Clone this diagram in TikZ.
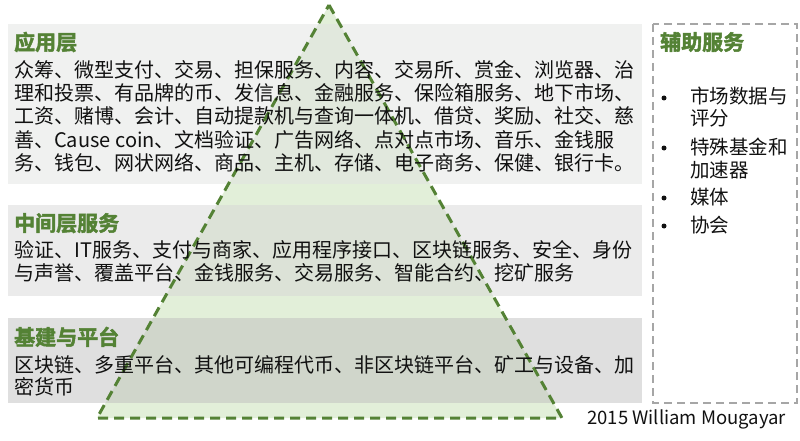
\documentclass[tikz,border=0pt]{standalone}
\usepackage{fontspec}
\setmainfont{Noto Sans CJK SC}
\newfontfamily\ttlfont[FakeBold=2.2]{Noto Sans CJK SC Bold}
\definecolor{boxA}{HTML}{E1E3E1}
\definecolor{boxB}{HTML}{D7D7D7}
\definecolor{boxC}{HTML}{BFBFBF}
\definecolor{tri}{HTML}{E2EFD9}
\definecolor{triline}{HTML}{548235}
\definecolor{ttl}{HTML}{548235}
\definecolor{dgray}{HTML}{A6A6A6}
\definecolor{txt}{HTML}{111111}
\tikzset{
  layerbox/.style={fill opacity=0.5, draw=none},
  ttlstyle/.style={anchor=base west, inner sep=0pt, text=ttl, font=\ttlfont\fontsize{21}{24}\selectfont},
  bodyline/.style={anchor=base west, inner sep=0pt, text=txt, font=\fontsize{20}{23}\selectfont},
  sideline/.style={anchor=base west, inner sep=0pt, text=txt, font=\fontsize{19.5}{22}\selectfont},
  bulletdot/.style={circle, fill=txt, inner sep=0pt, minimum size=5pt},
}
\begin{document}
\begin{tikzpicture}[x=1pt,y=-1pt]
\useasboundingbox (0,0) rectangle (800,441);
% triangle fill
\coordinate (apex) at (329,5);
\coordinate (bl) at (97,418);
\coordinate (br) at (562,418);
\fill[tri] (apex) -- (br) -- (bl) -- cycle;
% layer boxes
\fill[boxA, layerbox] (8,24) rectangle (642,184);
\fill[boxB, layerbox] (8,205) rectangle (642,296);
\fill[boxC, layerbox] (8,318) rectangle (642,403);
% triangle border
\draw[triline, line width=3pt, dash pattern=on 10pt off 6pt, line join=miter] (apex) -- (br) -- (bl) -- cycle;
% side box
\draw[dgray, line width=2.5pt, dash pattern=on 8pt off 5pt] (653,24) rectangle (797,403);

% top layer
\node[ttlstyle] (t1) at (14,50) {应用层};
\node[bodyline] (a1) at (14,78) {众筹、微型支付、交易、担保服务、内容、交易所、赏金、浏览器、治};
\node[bodyline] (a2) at (14,101) {理和投票、有品牌的币、发信息、金融服务、保险箱服务、地下市场、};
\node[bodyline] (a3) at (14,124) {工资、赌博、会计、自动提款机与查询一体机、借贷、奖励、社交、慈};
\node[bodyline] (a4) at (14,147) {善、Cause coin、文档验证、广告网络、点对点市场、音乐、金钱服};
\node[bodyline] (a5) at (14,170) {务、钱包、网状网络、商品、主机、存储、电子商务、保健、银行卡。};

% middle layer
\node[ttlstyle] (t2) at (14,231) {中间层服务};
\node[bodyline] (b1) at (14,257) {验证、IT服务、支付与商家、应用程序接口、区块链服务、安全、身份};
\node[bodyline] (b2) at (14,280) {与声誉、覆盖平台、金钱服务、交易服务、智能合约、挖矿服务};

% bottom layer
\node[ttlstyle] (t3) at (14,345) {基建与平台};
\node[bodyline] (c1) at (14,372) {区块链、多重平台、其他可编程代币、非区块链平台、矿工与设备、加};
\node[bodyline] (c2) at (14,394) {密货币};

% side box
\node[ttlstyle] (t4) at (660,50) {辅助服务};
\node[bulletdot] (d0) at (664,98) {};
\node[sideline] (d1) at (690,104) {市场数据与};
\node[sideline] (d2) at (690,125) {评分};
\node[bulletdot] (e0) at (664,148) {};
\node[sideline] (e1) at (690,154) {特殊基金和};
\node[sideline] (e2) at (690,177) {加速器};
\node[bulletdot] (f0) at (664,198) {};
\node[sideline] (f1) at (690,204) {媒体};
\node[bulletdot] (g0) at (664,226) {};
\node[sideline] (g1) at (690,232) {协会};

% credit
\node[anchor=base west, inner sep=0pt, text=txt, font=\fontsize{18.5}{20}\selectfont] (cr) at (587,424) {2015 William Mougayar};
\end{tikzpicture}
\end{document}
